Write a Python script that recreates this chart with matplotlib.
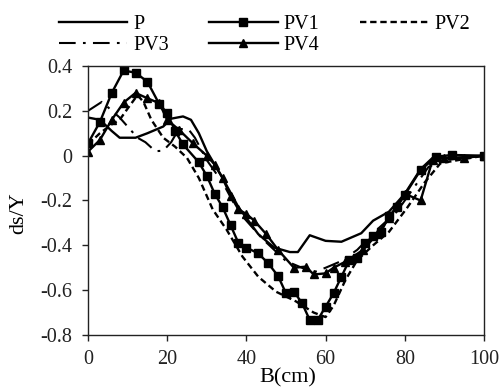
import matplotlib
matplotlib.use("Agg")
import matplotlib.pyplot as plt
from matplotlib.ticker import FixedLocator, FuncFormatter

plt.rcParams['font.family'] = ['Liberation Serif', 'DejaVu Serif']
plt.rcParams['axes.unicode_minus'] = False

# ---- data ----
x_P = [0, 3, 6, 8, 12, 15, 19, 21, 24, 26, 28, 30, 34, 38, 43, 47, 51, 53, 56, 60, 64, 69, 72, 76, 80, 84, 87, 92, 100]
y_P = [0.17, 0.16, 0.11, 0.08, 0.08, 0.10, 0.13, 0.165, 0.175, 0.16, 0.10, 0.02, -0.10, -0.23, -0.35, -0.41, -0.43, -0.43, -0.355, -0.38, -0.384, -0.346, -0.29, -0.25, -0.17, -0.06, -0.01, -0.01, 0.0]

x_PV1 = [0, 3, 6, 9, 12, 15, 18, 20, 22, 24, 28, 30, 32, 34, 36, 38, 40, 43, 45.5, 48, 50, 52, 54, 56, 58, 60, 62, 64, 66, 68, 70, 72, 74, 76, 78, 80, 84, 88, 92, 100]
y_PV1 = [0.055, 0.15, 0.28, 0.38, 0.37, 0.33, 0.23, 0.19, 0.11, 0.05, -0.03, -0.09, -0.17, -0.23, -0.31, -0.39, -0.41, -0.436, -0.48, -0.537, -0.614, -0.607, -0.656, -0.733, -0.733, -0.674, -0.614, -0.54, -0.466, -0.458, -0.39, -0.36, -0.34, -0.27, -0.23, -0.175, -0.064, -0.004, 0.003, 0.0]

x_PV2 = [0, 3, 6, 8, 10, 12.5, 14, 16, 19, 22, 25, 28, 31.5, 35, 39, 43, 47.5, 52.5, 57, 60, 62, 65, 68, 72, 76, 80.5, 85, 89, 95, 100]
y_PV2 = [0.05, 0.10, 0.14, 0.16, 0.21, 0.27, 0.24, 0.16, 0.08, 0.04, -0.01, -0.10, -0.24, -0.33, -0.45, -0.54, -0.607, -0.65, -0.70, -0.72, -0.67, -0.555, -0.466, -0.40, -0.34, -0.235, -0.12, -0.034, -0.015, 0.0]

x_PV3 = [0, 3.5, 8, 12.5, 14.5, 17, 19, 21, 23, 25.5, 27, 30, 34, 38, 44, 50, 54, 57, 60, 64, 68, 73, 78, 82, 86, 90, 100]
y_PV3 = [0.20, 0.24, 0.17, 0.08, 0.06, 0.02, 0.022, 0.06, 0.12, 0.115, 0.08, -0.02, -0.12, -0.25, -0.37, -0.47, -0.50, -0.52, -0.50, -0.47, -0.42, -0.33, -0.25, -0.15, -0.05, -0.02, 0.0]

x_PV4 = [0, 3, 6, 9, 12, 15, 18, 20, 23, 26.5, 30, 32, 34, 36, 38, 40, 42, 45, 48, 52, 55, 57, 60, 62, 65, 69.5, 73, 76, 80, 84, 87, 90, 95, 100]
y_PV4 = [0.018, 0.07, 0.16, 0.237, 0.28, 0.256, 0.234, 0.16, 0.115, 0.055, 0.0, -0.04, -0.10, -0.18, -0.24, -0.26, -0.29, -0.35, -0.42, -0.50, -0.495, -0.53, -0.525, -0.50, -0.473, -0.42, -0.35, -0.28, -0.17, -0.20, -0.02, -0.01, -0.01, 0.0]

x_ticks = [0, 20, 40, 60, 80, 100]
y_ticks = [-0.8, -0.6, -0.4, -0.2, 0, 0.2, 0.4]

# ---- figure ----
fig = plt.figure(figsize=(5.02, 3.88), dpi=100)
ax = fig.add_axes([0.1753, 0.1366, 0.7888, 0.6933])

lw = 1.7
hP, = ax.plot(x_P, y_P, color='black', lw=lw, label='P')
hPV1, = ax.plot(x_PV1, y_PV1, color='black', lw=lw, marker='s', ms=5.5, label='PV1')
hPV2, = ax.plot(x_PV2, y_PV2, color='black', lw=lw, linestyle=(0, (2.7, 1.6)), label='PV2')
hPV3, = ax.plot(x_PV3, y_PV3, color='black', lw=1.5, linestyle=(0, (8, 3.5, 1.3, 3.5)), label='PV3')
hPV4, = ax.plot(x_PV4, y_PV4, color='black', lw=lw, marker='^', ms=5.5, label='PV4')

ax.set_xlim(0, 100)
ax.set_ylim(-0.8, 0.4)
ax.xaxis.set_major_locator(FixedLocator(x_ticks))
ax.yaxis.set_major_locator(FixedLocator(y_ticks))
ax.yaxis.set_major_formatter(FuncFormatter(lambda v, p: '%g' % round(v, 1)))
ax.tick_params(direction='out', length=4.5, width=1, labelsize=14.5, colors='#222222')
ax.tick_params(axis='x', pad=6)
ax.tick_params(axis='y', pad=7)
for s in ax.spines.values():
    s.set_linewidth(1.0)
    s.set_color('#222222')

ax.set_xlabel('B(cm)', fontsize=16)
ax.xaxis.set_label_coords(0.504, -0.122)
ax.set_ylabel('ds/Y', fontsize=16)
ax.yaxis.set_label_coords(-0.152, 0.454)

fig.legend(handles=[hP, hPV3, hPV1, hPV4, hPV2], ncol=3, frameon=False,
           loc='upper left', bbox_to_anchor=(0.105, 0.978), fontsize=14.5,
           handlelength=3.4, handletextpad=0.3, columnspacing=2.0,
           labelspacing=0.1, borderaxespad=0, borderpad=0.3)

fig.savefig('out.png', dpi=100)
